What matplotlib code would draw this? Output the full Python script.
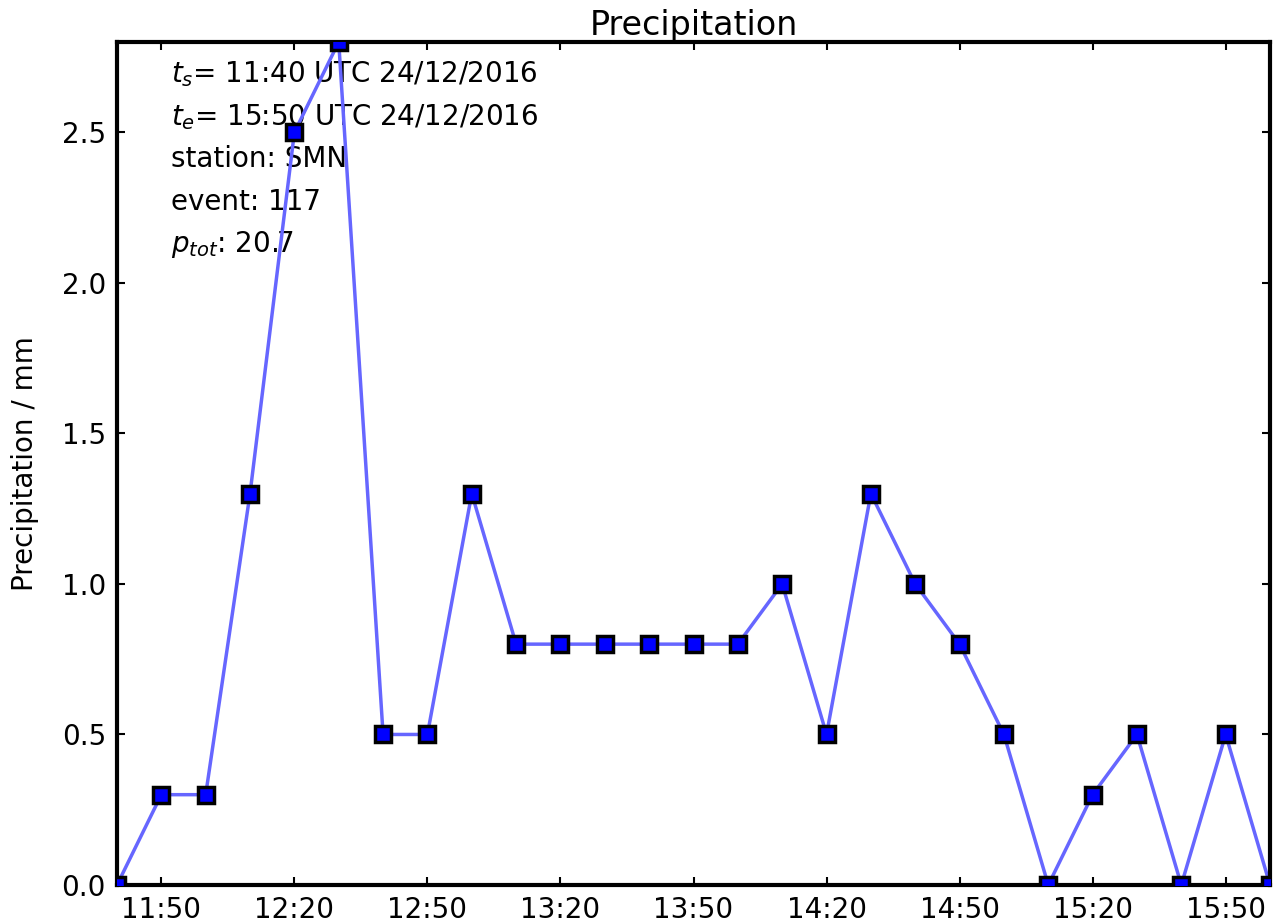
import pandas as pd
import matplotlib
matplotlib.use("Agg")
import matplotlib.pyplot as plt
import matplotlib.dates as mdates

# 10-minute precipitation, SMN station, 24/12/2016
times = ["11:40", "11:50", "12:00", "12:10", "12:20", "12:30", "12:40", "12:50",
         "13:00", "13:10", "13:20", "13:30", "13:40", "13:50", "14:00", "14:10",
         "14:20", "14:30", "14:40", "14:50", "15:00", "15:10", "15:20", "15:30",
         "15:40", "15:50", "16:00"]
precip = [0.0, 0.3, 0.3, 1.3, 2.5, 2.8, 0.5, 0.5,
          1.3, 0.8, 0.8, 0.8, 0.8, 0.8, 0.8, 1.0,
          0.5, 1.3, 1.0, 0.8, 0.5, 0.0, 0.3, 0.5,
          0.0, 0.5, 0.0]
tick_times = ["11:50", "12:20", "12:50", "13:20", "13:50", "14:20", "14:50", "15:20", "15:50"]
info_lines = [r"$t_s$= 11:40 UTC 24/12/2016",
              r"$t_e$= 15:50 UTC 24/12/2016",
              "station: SMN",
              "event: 117",
              r"$p_{tot}$: 20.7"]

day = "2016-12-24 "
x = pd.to_datetime([day + t for t in times])
xt = pd.to_datetime([day + t for t in tick_times])

plt.rcParams["font.family"] = "DejaVu Sans"
plt.rcParams["font.size"] = 20
plt.rcParams["xtick.direction"] = "in"
plt.rcParams["ytick.direction"] = "in"
plt.rcParams["xtick.top"] = True
plt.rcParams["ytick.right"] = True

fig = plt.figure(figsize=(12.81, 9.23), dpi=100)
ax = fig.add_axes([117 / 1281, 38 / 923, 1153 / 1281, 843 / 923])

ax.plot(x, precip, color=(0.4, 0.4, 1.0), lw=2.5, zorder=2)
ax.plot(x, precip, ls="none", marker="s", ms=11, mfc="blue", mec="black",
        mew=2.5, zorder=3)

ax.set_xlim(x[0], x[-1])
ax.set_ylim(0, 2.8)
ax.set_xticks(xt)
ax.xaxis.set_major_formatter(mdates.DateFormatter("%H:%M"))
ax.set_yticks([0.0, 0.5, 1.0, 1.5, 2.0, 2.5])
ax.yaxis.set_major_formatter(matplotlib.ticker.FormatStrFormatter("%.1f"))
ax.tick_params(length=6, width=1.5, pad=8)
for s in ax.spines.values():
    s.set_linewidth(3)

ax.set_ylabel("Precipitation / mm", fontsize=20, labelpad=16)
ax.set_title("Precipitation", fontsize=24, pad=4)

for i, line in enumerate(info_lines):
    ax.text(0.047, 0.962 - i * 0.0505, line, transform=ax.transAxes,
            fontsize=20, va="center", ha="left", zorder=1)

fig.savefig("out.png", dpi=100, facecolor="white")
